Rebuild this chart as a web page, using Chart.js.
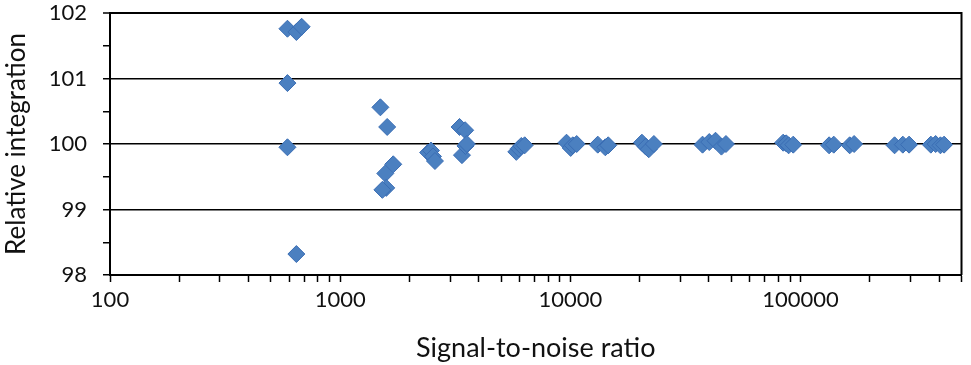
<!DOCTYPE html>
<html>
<head>
<meta charset="utf-8">
<script src="https://cdn.jsdelivr.net/npm/chart.js@4/dist/chart.umd.min.js"></script>
<style>
  html, body { margin: 0; padding: 0; background: #fff; }
  canvas { display: block; }
</style>
</head>
<body>
<canvas id="c" width="971" height="365"></canvas>
<script>
// ---- data ----
const snr = [
  590, 645, 680, 590, 590, 645,
  1495, 1600, 1700, 1570, 1585, 1525,
  2410, 2480, 2530, 2580,
  3300, 3490, 3380, 3500, 3550,
  5820, 5970, 6120, 6330,
  9620, 10030, 10240, 10650,
  13150, 14180, 14600,
  20450, 21250, 21900, 23050,
  37500, 40100, 42700, 45300, 47400,
  84000, 86600, 88700, 92900,
  133000, 139300, 163400, 170800,
  256000, 278000, 296000,
  368000, 386000, 405000, 420000
];
const relativeIntegration = [
  101.76, 101.71, 101.79, 100.93, 99.95, 98.32,
  100.56, 100.26, 99.69, 99.55, 99.33, 99.30,
  99.87, 99.90, 99.81, 99.74,
  100.26, 100.21, 99.83, 99.97, 100.00,
  99.88, 99.93, 99.97, 99.98,
  100.02, 99.94, 99.98, 100.00,
  99.99, 99.95, 99.98,
  100.02, 99.96, 99.92, 100.00,
  99.99, 100.03, 100.05, 99.96, 100.00,
  100.02, 100.01, 99.98, 99.99,
  99.98, 99.99, 99.98, 100.00,
  99.98, 99.99, 99.99,
  99.99, 100.00, 99.98, 99.99
];
const xMajorTicks = [100, 1000, 10000, 100000];
const xMin = 100, xMax = 500000;
const yMin = 98, yMax = 102, yStep = 0.5;
const xTitle = 'Signal-to-noise ratio';
const yTitle = 'Relative integration';

const points = snr.map((x, i) => ({ x: x, y: relativeIntegration[i] }));

const FONT = 'Lato, "Open Sans", sans-serif';

const rightBorder = {
  id: 'rightBorder',
  beforeDatasetsDraw(chart) {
    const { ctx, chartArea } = chart;
    ctx.save();
    ctx.strokeStyle = '#000';
    ctx.lineWidth = 2;
    ctx.beginPath();
    ctx.moveTo(chartArea.right, chartArea.top - 1);
    ctx.lineTo(chartArea.right, chartArea.bottom);
    ctx.stroke();
    ctx.restore();
  }
};

new Chart(document.getElementById('c'), {
  type: 'scatter',
  data: {
    datasets: [{
      data: points,
      pointStyle: 'rectRot',
      pointRadius: 8.5,
      pointBorderWidth: 1,
      backgroundColor: '#4b80c0',
      borderColor: '#3a6db4',
      showLine: false
    }]
  },
  options: {
    responsive: false,
    animation: false,
    layout: { padding: { top: 0, right: 3, left: 0, bottom: 0 } },
    plugins: { legend: { display: false }, tooltip: { enabled: false } },
    scales: {
      x: {
        type: 'logarithmic',
        min: xMin,
        max: xMax,
        afterBuildTicks(scale) {
          const t = [];
          xMajorTicks.forEach(m => {
            for (let k = 1; k <= 9; k++) {
              const v = m * k;
              if (v >= xMin && v <= xMax) t.push({ value: v });
            }
          });
          scale.ticks = t;
        },
        afterFit(scale) { scale.height = 90; scale.paddingRight = 0; },
        border: { display: true, color: '#000', width: 2 },
        grid: { drawOnChartArea: false, drawTicks: true, tickLength: 7, tickColor: '#000', tickWidth: 1.5 },
        ticks: {
          autoSkip: false,
          maxRotation: 0,
          padding: 5,
          color: '#111',
          font: { family: FONT, size: 22 },
          callback: (v) => xMajorTicks.includes(v) ? String(v) : ''
        },
        title: {
          display: true,
          text: xTitle,
          color: '#111',
          font: { family: FONT, size: 27 },
          padding: { top: 0, bottom: 1 }
        }
      },
      y: {
        min: yMin,
        max: yMax,
        afterFit(scale) { scale.width = 110; scale.paddingTop = 13; scale.paddingBottom = 0; },
        border: { display: true, color: '#000', width: 2 },
        grid: {
          drawTicks: true,
          tickLength: 7,
          tickColor: '#000',
          tickWidth: 1.5,
          color: (c) => (c.tick && Number.isInteger(c.tick.value)) ? '#000' : 'rgba(0,0,0,0)',
          lineWidth: (c) => (c.tick && c.tick.value === yMax) ? 2 : 1.5
        },
        ticks: {
          stepSize: yStep,
          padding: 16,
          color: '#111',
          font: { family: FONT, size: 22 },
          callback: (v) => Number.isInteger(v) ? String(v) : ''
        },
        title: {
          display: true,
          text: yTitle,
          color: '#111',
          font: { family: FONT, size: 26 },
          padding: { top: 1, bottom: 0 }
        }
      }
    }
  },
  plugins: [rightBorder]
});
</script>
</body>
</html>
